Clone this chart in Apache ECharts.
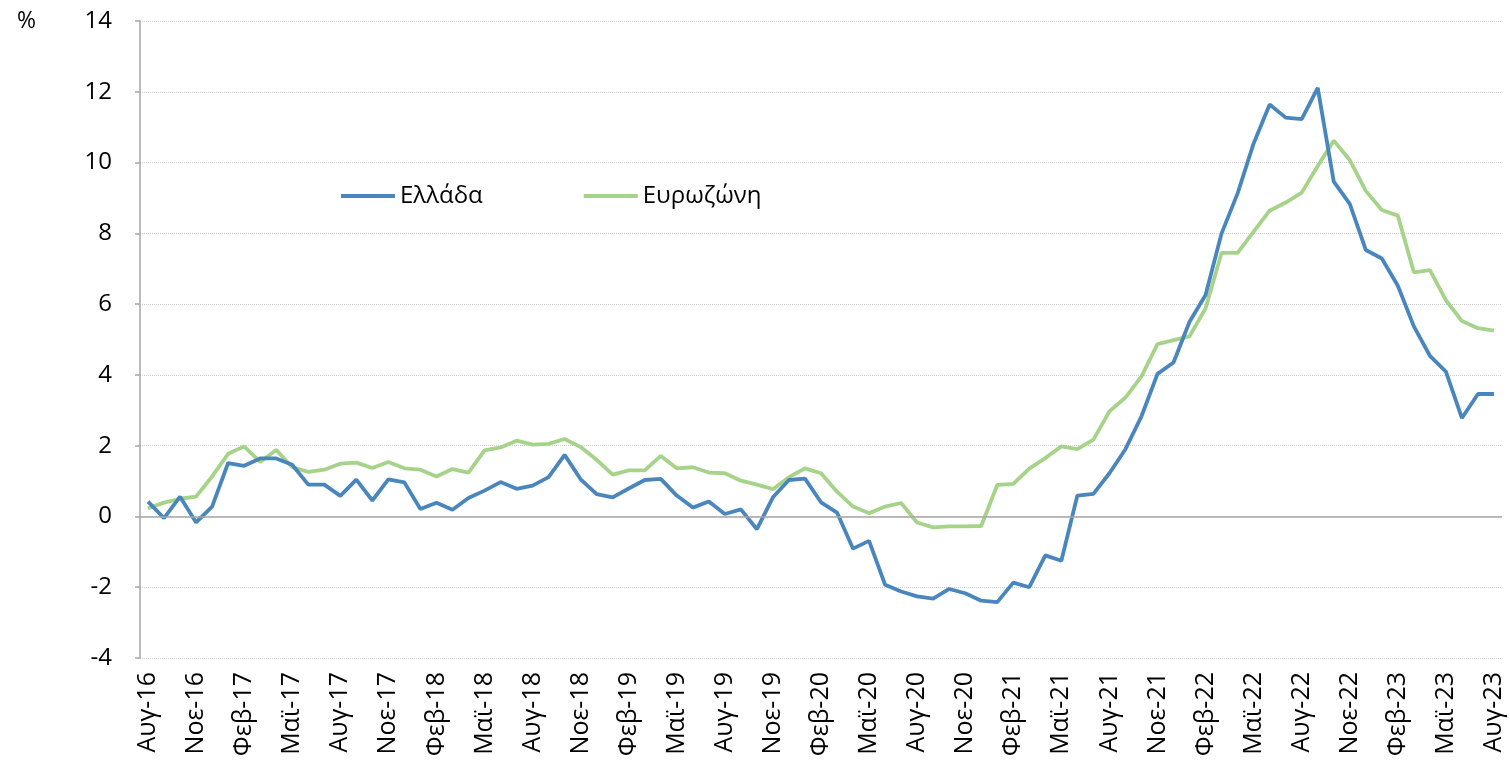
<!DOCTYPE html>
<html>
<head>
    <meta charset="UTF-8">
    <title>Πληθωρισμός: Ελλάδα - Ευρωζώνη</title>
    <script src="https://cdn.jsdelivr.net/npm/echarts@6/dist/echarts.min.js"></script>
    <style>
        html, body { margin: 0; padding: 0; background: #fff; }
        #main { width: 1510px; height: 768px; }
    </style>
</head>
<body>
<div id="main"></div>
<script type="text/javascript">
// μήνες και χρόνια (Αυγ-16 .. Αυγ-23)
var monthNames = ['Ιαν', 'Φεβ', 'Μαρ', 'Απρ', 'Μαϊ', 'Ιουν', 'Ιουλ', 'Αυγ', 'Σεπ', 'Οκτ', 'Νοε', 'Δεκ'];
var category = [];
for (var y = 2016; y <= 2023; y++) {
    for (var m = 0; m < 12; m++) {
        if (y === 2016 && m < 7) continue;
        if (y === 2023 && m > 7) continue;
        category.push(monthNames[m] + '-' + String(y).slice(2));
    }
}

var greece = [
    0.42, -0.05, 0.56, -0.17, 0.28, 1.51, 1.43, 1.64, 1.64, 1.46,
    0.90, 0.90, 0.58, 1.04, 0.45, 1.05, 0.96, 0.21, 0.39, 0.19,
    0.52, 0.73, 0.97, 0.78, 0.87, 1.11, 1.74, 1.05, 0.63, 0.54,
    0.79, 1.03, 1.06, 0.59, 0.25, 0.42, 0.07, 0.20, -0.36, 0.54,
    1.03, 1.07, 0.40, 0.11, -0.91, -0.69, -1.93, -2.12, -2.26, -2.32,
    -2.05, -2.17, -2.38, -2.42, -1.87, -2.00, -1.10, -1.25, 0.59, 0.64,
    1.22, 1.90, 2.83, 4.03, 4.35, 5.50, 6.26, 8.00, 9.13, 10.54,
    11.64, 11.27, 11.23, 12.11, 9.46, 8.83, 7.53, 7.29, 6.52, 5.37,
    4.54, 4.09, 2.78, 3.46, 3.46
];

var eurozone = [
    0.23, 0.39, 0.50, 0.56, 1.13, 1.77, 1.98, 1.54, 1.88, 1.39,
    1.26, 1.32, 1.49, 1.52, 1.37, 1.54, 1.36, 1.32, 1.13, 1.34,
    1.24, 1.87, 1.95, 2.14, 2.03, 2.05, 2.19, 1.96, 1.60, 1.18,
    1.30, 1.30, 1.71, 1.36, 1.39, 1.24, 1.22, 1.01, 0.90, 0.77,
    1.11, 1.36, 1.22, 0.70, 0.28, 0.09, 0.28, 0.38, -0.17, -0.31,
    -0.28, -0.28, -0.27, 0.89, 0.92, 1.35, 1.65, 1.98, 1.90, 2.17,
    2.97, 3.36, 3.96, 4.87, 4.98, 5.09, 5.88, 7.45, 7.45, 8.05,
    8.64, 8.87, 9.15, 9.90, 10.62, 10.07, 9.20, 8.66, 8.50, 6.90,
    6.96, 6.11, 5.52, 5.32, 5.25
];

var myChart = echarts.init(document.getElementById('main'));

var font = 'Open Sans';

option = {
    backgroundColor: '#ffffff',
    animation: false,
    textStyle: { fontFamily: font },
    grid: { left: 140, right: 8, top: 21, bottom: 110 },
    legend: {
        data: ['Ελλάδα', 'Ευρωζώνη'],
        left: 336,
        top: 179,
        icon: 'rect',
        itemWidth: 54,
        itemHeight: 4,
        itemGap: 101,
        textStyle: { fontSize: 24, color: '#000', fontFamily: font }
    },
    graphic: [{
        type: 'text',
        left: 17,
        top: 10,
        style: { text: '%', fontSize: 23, fontFamily: font, fill: '#000' }
    }],
    xAxis: {
        type: 'category',
        data: category,
        boundaryGap: true,
        axisLine: { show: false },
        axisTick: { show: false },
        axisLabel: {
            interval: 2,
            rotate: 90,
            margin: 14,
            fontSize: 25,
            color: '#000',
            fontFamily: font
        }
    },
    yAxis: {
        type: 'value',
        min: -4,
        max: 14,
        interval: 2,
        axisLine: { show: true, lineStyle: { color: '#a6a6a6', width: 1.5 } },
        axisTick: { show: true, length: 5, lineStyle: { color: '#a6a6a6', width: 1.5 } },
        axisLabel: { margin: 28, fontSize: 24, color: '#000', fontFamily: font },
        splitLine: { lineStyle: { color: '#cfcfcf', type: 'dotted', width: 1 } }
    },
    series: [{
        name: 'zero',
        type: 'line',
        data: [],
        silent: true,
        z: 1,
        markLine: {
            silent: true,
            symbol: 'none',
            label: { show: false },
            lineStyle: { color: '#a6a6a6', type: 'solid', width: 1.5 },
            data: [{ yAxis: 0 }]
        }
    }, {
        name: 'Ελλάδα',
        type: 'line',
        data: greece,
        symbol: 'none',
        z: 3,
        lineStyle: { color: '#4a86be', width: 3.8 },
        itemStyle: { color: '#4a86be' }
    }, {
        name: 'Ευρωζώνη',
        type: 'line',
        data: eurozone,
        symbol: 'none',
        z: 2,
        lineStyle: { color: '#a6d38a', width: 3.8 },
        itemStyle: { color: '#a6d38a' }
    }]
};

myChart.setOption(option);
</script>
</body>
</html>
